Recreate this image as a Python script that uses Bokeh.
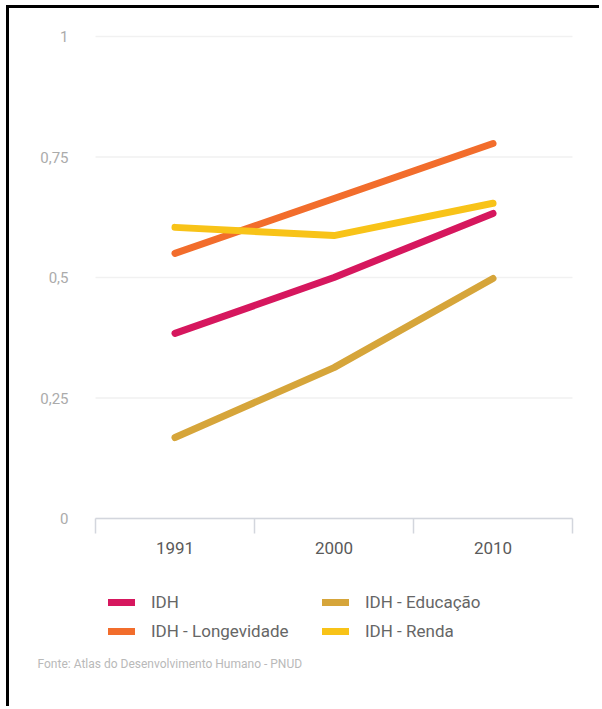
from bokeh.plotting import figure
from bokeh.models import FixedTicker, Legend, LegendItem, Label, Range1d
from bokeh.embed import file_html
from bokeh.resources import INLINE

# ---- data ----
years = ["1991", "2000", "2010"]
idh = [0.384, 0.500, 0.633]
idh_longevidade = [0.550, 0.664, 0.778]
idh_educacao = [0.168, 0.313, 0.498]
idh_renda = [0.604, 0.587, 0.654]
y_ticks = [0, 0.25, 0.5, 0.75, 1]
y_tick_labels = ["0", "0,25", "0,5", "0,75", "1"]
series_names = ["IDH", "IDH - Longevidade", "IDH - Educação", "IDH - Renda"]
colors = ["#d6175e", "#f26d2c", "#d6a53a", "#f8c318"]
source_note = "Fonte: Atlas do Desenvolvimento Humano - PNUD"

FONT = "Roboto"

n = len(years)
xs = [i + 0.5 for i in range(n)]

W, H = 593, 701
px_per_x = 159.0
px_per_y = 482.0
x0_px, y1_px, y0_px = 86.0, 28.0, 510.0
x_range = Range1d(-x0_px / px_per_x, n + (W - x0_px - n * px_per_x) / px_per_x)
y_range = Range1d(-(H - y0_px) / px_per_y, 1 + y1_px / px_per_y)

p = figure(width=W, height=H, output_backend="svg", toolbar_location=None,
           x_range=x_range, y_range=y_range,
           min_border_left=0, min_border_right=0, min_border_top=0,
           min_border_bottom=0)
p.outline_line_color = None
p.background_fill_color = "white"
p.border_fill_color = "white"
p.styles = {"border-top": "3px solid black", "border-left": "3px solid black",
            "margin-left": "6px", "margin-top": "5px"}
p.xgrid.visible = False
p.ygrid.visible = False

# horizontal grid lines over the category span
p.segment(x0=[0] * len(y_ticks), x1=[n] * len(y_ticks), y0=y_ticks, y1=y_ticks,
          line_color="#f1f1f1", line_width=1.5, level="underlay")

series = {
    "IDH": idh,
    "IDH - Longevidade": idh_longevidade,
    "IDH - Educação": idh_educacao,
    "IDH - Renda": idh_renda,
}
draw_order = ["IDH - Educação", "IDH", "IDH - Longevidade", "IDH - Renda"]
renderers = {}
for name in draw_order:
    c = colors[series_names.index(name)]
    renderers[name] = p.line(xs, series[name], line_color=c, line_width=7,
                             line_cap="round", line_join="round")

# x axis: labels at band centres, ticks at band boundaries
xa = p.xaxis[0]
xa.fixed_location = 0
xa.bounds = (0, n)
xa.ticker = FixedTicker(ticks=xs, minor_ticks=list(range(n + 1)))
xa.major_label_overrides = {x: y for x, y in zip(xs, years)}
xa.major_tick_line_color = None
xa.major_tick_out = 0
xa.major_tick_in = 0
xa.minor_tick_line_color = "#d3d6dd"
xa.minor_tick_line_width = 1.5
xa.minor_tick_out = 15
xa.minor_tick_in = 0
xa.axis_line_color = "#d3d6dd"
xa.axis_line_width = 1.5
xa.major_label_standoff = 8
xa.major_label_text_font = FONT
xa.major_label_text_font_size = "17px"
xa.major_label_text_color = "#5a5a5a"

ya = p.yaxis[0]
ya.fixed_location = 0
ya.ticker = FixedTicker(ticks=y_ticks)
ya.major_label_overrides = {t: l for t, l in zip(y_ticks, y_tick_labels)}
ya.axis_line_color = None
ya.major_tick_line_color = None
ya.minor_tick_line_color = None
ya.major_label_standoff = 21
ya.major_label_text_font = FONT
ya.major_label_text_font_size = "15px"
ya.major_label_text_color = "#ababab"


def make_legend(names, loc):
    return Legend(items=[LegendItem(label=nm, renderers=[renderers[nm]]) for nm in names],
                  location=loc, orientation="vertical", glyph_width=27, glyph_height=20,
                  label_height=20, spacing=9, padding=0, margin=0,
                  border_line_color=None, background_fill_alpha=0,
                  label_text_font=FONT, label_text_font_size="17px",
                  label_text_color="#666666", label_standoff=16)


# legend / note positions measured up from the canvas bottom
legend_bottom = H - 633
note_y = H - 655
p.add_layout(make_legend(["IDH", "IDH - Longevidade"], (99, legend_bottom)), "center")
p.add_layout(make_legend(["IDH - Educação", "IDH - Renda"], (313, legend_bottom)), "center")

p.add_layout(Label(x=28, y=note_y, x_units="screen", y_units="screen", text=source_note,
                   text_font=FONT, text_font_size="12px", text_color="#b9b9b9",
                   text_baseline="middle"))

open("out.html", "w").write(file_html(p, INLINE))
